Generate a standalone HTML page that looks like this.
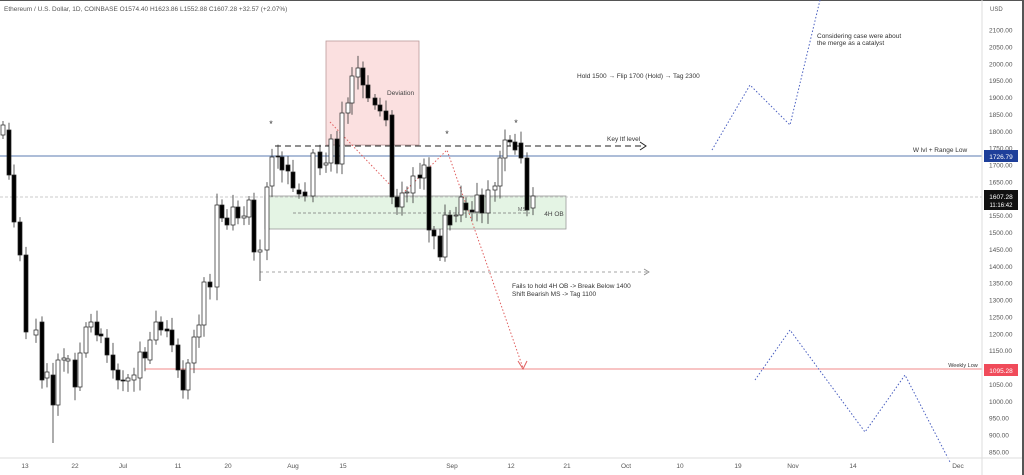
<!DOCTYPE html>
<html><head><meta charset="utf-8"><style>
html,body{margin:0;padding:0;background:#fff;}
svg{display:block;font-family:"Liberation Sans",sans-serif;}
</style></head><body>
<svg id="s" width="1024" height="475" viewBox="0 0 1024 475" xmlns="http://www.w3.org/2000/svg">
<rect width="1024" height="475" fill="#fff"/>
<rect x="0" y="0" width="1024" height="1" fill="#555"/>
<rect x="1022" y="0" width="2" height="475" fill="#555"/>
<rect x="326" y="41" width="93" height="104" fill="#fbe0e0" stroke="#b99" stroke-width="0.8"/>
<text x="387" y="95" font-size="6.5" fill="#444">Deviation</text>
<rect x="265" y="196" width="301" height="33" fill="#e4f4e4" stroke="#999" stroke-width="0.8"/>
<text x="554" y="216" font-size="6.5" fill="#444" text-anchor="middle">4H OB</text>
<text x="522" y="211" font-size="5.5" fill="#666" text-anchor="middle">MS</text>
<line x1="0" y1="156" x2="982" y2="156" stroke="#5b7bb0" stroke-width="1"/>
<line x1="145" y1="369" x2="982" y2="369" stroke="#f08a8a" stroke-width="1"/>
<line x1="0" y1="197" x2="982" y2="197" stroke="#bbb" stroke-width="0.8" stroke-dasharray="3,2"/>
<line x1="275" y1="146" x2="645" y2="146" stroke="#222" stroke-width="1" stroke-dasharray="6,4"/>
<path d="M640 142 L646 146 L640 150" fill="none" stroke="#222" stroke-width="1"/>
<text x="607" y="141" font-size="6.5" fill="#333">Key ltf level</text>
<line x1="260" y1="272" x2="648" y2="272" stroke="#888" stroke-width="0.8" stroke-dasharray="3,3"/>
<path d="M644 269 L649 272 L644 275" fill="none" stroke="#888" stroke-width="0.8"/>
<line x1="293" y1="213" x2="530" y2="213" stroke="#777" stroke-width="0.7" stroke-dasharray="3,2"/>
<text x="512" y="288" font-size="6.5" fill="#333">Fails to hold 4H OB -&gt; Break Below 1400</text>
<text x="512" y="296" font-size="6.5" fill="#333">Shift Bearish MS -&gt; Tag 1100</text>
<text x="577" y="78" font-size="6.5" fill="#333">Hold 1500  → Flip 1700 (Hold) → Tag 2300</text>
<text x="817" y="38" font-size="6.5" fill="#333">Considering case were about</text>
<text x="817" y="45" font-size="6.5" fill="#333">the merge as a catalyst</text>
<text x="940" y="152" font-size="6.5" fill="#333" text-anchor="middle">W lvl + Range Low</text>
<text x="963" y="367" font-size="5.5" fill="#333" text-anchor="middle">Weekly Low</text>
<text x="271" y="127" font-size="9" fill="#333" text-anchor="middle">*</text>
<text x="447" y="137" font-size="9" fill="#333" text-anchor="middle">*</text>
<text x="516" y="126" font-size="9" fill="#333" text-anchor="middle">*</text>
<polyline points="330,122 395,190" fill="none" stroke="#e06060" stroke-width="1" stroke-dasharray="1.5,2"/>
<polyline points="400,196 447,150 523,368" fill="none" stroke="#e06060" stroke-width="1" stroke-dasharray="1.5,2"/>
<path d="M518 361 L523 369 L527 361" fill="none" stroke="#e06060" stroke-width="1"/>
<polyline points="712,150 750,85 790,125 820,0" fill="none" stroke="#4a5fc0" stroke-width="1" stroke-dasharray="1.5,2"/>
<polyline points="755,380 790,330 865,432 905,375 950,462" fill="none" stroke="#4a5fc0" stroke-width="1" stroke-dasharray="1.5,2"/>
<g id="c"></g>
<line x1="982" y1="0" x2="982" y2="475" stroke="#ddd" stroke-width="1"/>
<line x1="0" y1="458" x2="1022" y2="458" stroke="#ddd" stroke-width="1"/>
<text x="4" y="11" font-size="6.5" fill="#555">Ethereum / U.S. Dollar, 1D, COINBASE  O1574.40  H1623.86  L1552.88  C1607.28  +32.57 (+2.07%)</text>
<text x="990" y="11" font-size="6" fill="#555">USD</text>
<g id="ax" font-size="6.5" fill="#555"></g>
<g font-size="6.5" fill="#555" text-anchor="middle">
<text x="25" y="468">13</text><text x="75" y="468">22</text><text x="123" y="468">Jul</text><text x="178" y="468">11</text><text x="228" y="468">20</text><text x="293" y="468">Aug</text><text x="343" y="468">15</text><text x="452" y="468">Sep</text><text x="511" y="468">12</text><text x="567" y="468">21</text><text x="626" y="468">Oct</text><text x="680" y="468">10</text><text x="738" y="468">19</text><text x="793" y="468">Nov</text><text x="853" y="468">14</text><text x="958" y="468">Dec</text>
</g>
<rect x="984" y="150" width="34" height="12" fill="#1e3f9a"/>
<text x="1001" y="159" font-size="6.5" fill="#fff" text-anchor="middle">1726.79</text>
<rect x="984" y="190" width="34" height="20" fill="#111"/>
<text x="1001" y="199" font-size="6.5" fill="#fff" text-anchor="middle">1607.28</text>
<text x="1001" y="207" font-size="6" fill="#fff" text-anchor="middle">11:16:42</text>
<rect x="984" y="364" width="34" height="12" fill="#f04b5a"/>
<text x="1001" y="373" font-size="6.5" fill="#fff" text-anchor="middle">1095.28</text>
</svg>
<script>
var ns="http://www.w3.org/2000/svg";
var ax=document.getElementById("ax");
for(var p=2100;p>=850;p-=50){var y=30+(2100-p)*0.3376;var t=document.createElementNS(ns,"text");t.setAttribute("x","989");t.setAttribute("y",(y+2.5).toFixed(1));t.textContent=p.toFixed(2);ax.appendChild(t);}
var d=[[3,135,125],[9,130,175],[14,175,222],[20,222,255],[26,255,332],[36,335,330],[42,322,380],[47,378,372],[53,375,405,443],[58,405,360],[64,360,358],[68,361,359],[75,360,387],[80,387,353],[86,353,327],[91,327,322],[97,322,335],[101,334,336],[107,338,355],[113,355,370],[118,370,380],[123,380,381],[128,381,378],[134,380,375],[140,378,352],[145,352,358],[150,360,340],[156,340,322],[161,322,330],[167,329,331],[172,330,345],[178,345,370],[183,370,390],[188,390,363],[194,363,337],[199,337,325],[204,325,282],[210,282,287],[217,287,205],[222,205,218],[227,218,225],[233,225,207],[238,207,218],[244,218,216],[249,217,200],[254,200,252],[260,252,250,281],[267,250,187],[272,186,157],[278,156,157],[282,157,170],[288,165,171],[293,172,188],[299,190,194],[305,192,196],[313,196,153],[320,152,168],[326,165,163],[331,163,139],[337,139,164],[342,164,113],[348,113,103],[352,103,76],[358,77,68],[363,68,85],[368,85,98],[375,98,105],[380,105,111],[386,111,120],[392,115,197],[397,197,207],[402,207,193],[407,193,192],[413,193,176],[420,175,178],[424,178,165],[429,167,230],[434,230,236],[440,236,257],[445,257,215],[450,215,225],[456,216,215],[461,215,197],[466,203,210],[472,210,212],[477,212,195],[482,195,213],[488,213,190],[495,190,186],[500,186,158],[505,158,140],[510,140,142],[515,142,150],[521,143,158],[527,158,210],[533,208,196]];
var g=document.getElementById("c");
d.forEach(function(c,i){var x=c[0],o=c[1],cl=c[2];var top=Math.min(o,cl),bot=Math.max(o,cl);
var r=((i*37)%11)/11;var hi=top-4-r*9,lo=c[3]||(bot+4+((i*53)%13)/13*10);
var l=document.createElementNS(ns,"line");l.setAttribute("x1",x);l.setAttribute("x2",x);l.setAttribute("y1",hi);l.setAttribute("y2",lo);l.setAttribute("stroke","#333");l.setAttribute("stroke-width","0.8");g.appendChild(l);
var b=document.createElementNS(ns,"rect");b.setAttribute("x",x-2);b.setAttribute("width",4);b.setAttribute("y",top);b.setAttribute("height",Math.max(1,bot-top));
var bear=cl>o;b.setAttribute("fill",bear?"#000":"#fff");b.setAttribute("stroke","#222");b.setAttribute("stroke-width","0.7");g.appendChild(b);});
</script>
</body></html>
